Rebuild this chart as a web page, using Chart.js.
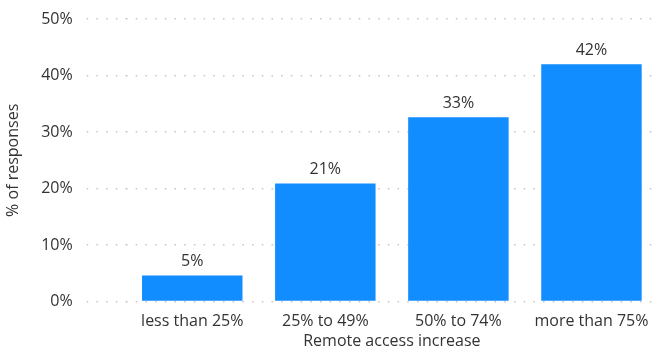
<!DOCTYPE html>
<html><head><meta charset="utf-8">
<script src="https://cdn.jsdelivr.net/npm/chart.js@4"></script>
<style>html,body{margin:0;padding:0;background:#fff}#wrap{width:669px;height:353px}</style>
</head><body><div id="wrap"><canvas id="c"></canvas></div>
<script>
const categories = ["less than 25%", "25% to 49%", "50% to 74%", "more than 75%"];
const responses = [4.6, 20.9, 32.6, 42.0];
const valueLabels = ["5%", "21%", "33%", "42%"];
const yTicks = [0, 10, 20, 30, 40, 50];

const FONT = "'Open Sans', sans-serif";
const TXT = "#333333";
const GRID = "#c8c6c4";
const DASH = [1.5, 8.2];

const labelPlugin = {
  id: 'barLabels',
  afterDatasetsDraw(chart) {
    const ctx = chart.ctx;
    const meta = chart.getDatasetMeta(0);
    ctx.save();
    ctx.font = "16px " + FONT;
    ctx.fillStyle = TXT;
    ctx.textAlign = 'center';
    ctx.textBaseline = 'bottom';
    meta.data.forEach((bar, i) => {
      ctx.fillText(valueLabels[i], bar.x, bar.y - 6);
    });
    ctx.restore();
  }
};

new Chart(document.getElementById('c'), {
  type: 'bar',
  data: {
    labels: categories,
    datasets: [{
      data: responses,
      backgroundColor: '#118DFF',
      borderWidth: 0,
      categoryPercentage: 1,
      barPercentage: 0.755
    }]
  },
  options: {
    responsive: true,
    maintainAspectRatio: false,
    animation: false,
    layout: { padding: { top: 0, right: 11, left: 4, bottom: 2 } },
    plugins: { legend: { display: false }, tooltip: { enabled: false } },
    scales: {
      x: {
        grid: { display: false },
        border: { display: false },
        ticks: { color: TXT, font: { family: FONT, size: 16 }, padding: 2 },
        title: { display: true, text: 'Remote access increase', color: TXT, font: { family: FONT, size: 16 }, padding: { top: -1, bottom: 0 } }
      },
      y: {
        min: 0, max: 50,
        afterBuildTicks(scale) { scale.ticks = yTicks.map(v => ({ value: v })); },
        afterFit(scale) { scale.paddingTop = 19; },
        grid: {
          color: GRID, lineWidth: 1.5,
          drawTicks: true, tickLength: 39, tickColor: GRID, tickBorderDash: DASH, tickWidth: 1.5
        },
        border: { display: false, dash: DASH },
        ticks: { color: TXT, font: { family: FONT, size: 16 }, padding: 14, callback: v => v + '%' },
        title: { display: true, text: '% of responses', color: TXT, font: { family: FONT, size: 16 }, padding: { top: 0, bottom: 4 } }
      }
    }
  },
  plugins: [labelPlugin]
});
</script></body></html>
